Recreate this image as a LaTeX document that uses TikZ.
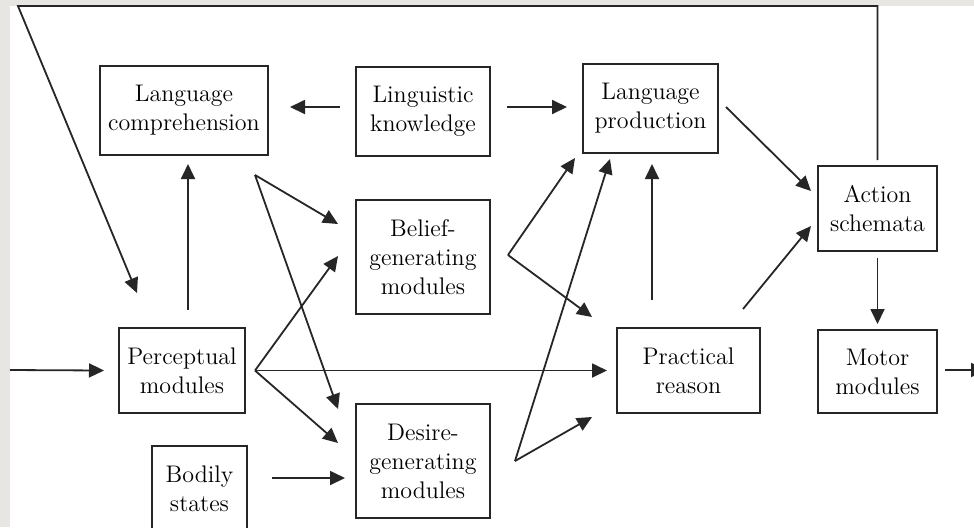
\documentclass[tikz,border=0pt]{standalone}
\usepackage{tikz}
\usetikzlibrary{calc,arrows.meta}
\newcommand{\clrline}{black!85}
\definecolor{pagegray}{HTML}{E8E6E3}
\tikzset{
    modbox/.style={draw=\clrline, line width=0.95pt, align=center, inner sep=0pt, outer sep=0pt,
        font=\fontsize{12}{14.5}\selectfont},
    arr/.style={draw=\clrline, line width=0.9pt, -{Triangle[length=7.5pt,width=7pt]}}
}

\begin{document}
\begin{tikzpicture}[x=0.5pt, y=-0.5pt]
    \useasboundingbox (0,0) rectangle (974,527);
    \clip (0,0) rectangle (974,527);
    %page
        \fill[pagegray] (0,0) rectangle (974,527);
        \fill[white] (10,6) rectangle (974,527);

    %modules
        \node[modbox, minimum width=84pt, minimum height=44.5pt] (langc) at (184,110.5) {Language\\comprehension};
        \node[modbox, minimum width=67pt, minimum height=44.5pt] (lingk) at (423,111.5) {Linguistic\\knowledge};
        \node[modbox, minimum width=67.5pt, minimum height=44.5pt] (langp) at (650.5,108.5) {Language\\production};
        \node[modbox, minimum width=59.5pt, minimum height=42.5pt] (action) at (877.5,208.5) {Action\\schemata};
        \node[modbox, minimum width=67pt, minimum height=57pt] (belief) at (423,257) {Belief-\\generating\\modules};
        \node[modbox, minimum width=63pt, minimum height=42.5pt] (percep) at (182,370.5) {Perceptual\\modules};
        \node[modbox, minimum width=47.5pt, minimum height=43pt] (bodily) at (199.5,489) {Bodily\\states};
        \node[modbox, minimum width=67pt, minimum height=57pt] (desire) at (423,461) {Desire-\\generating\\modules};
        \node[modbox, minimum width=71.5pt, minimum height=42.5pt] (pract) at (688.5,370.5) {Practical\\reason};
        \node[modbox, minimum width=59.5pt, minimum height=41.5pt] (motor) at (877.5,371.5) {Motor\\modules};

    %fan points
        \coordinate (cfan) at ($(langc.south east)+(-13,20)$);
        \coordinate (pfan) at ($(percep.east)+(10,0)$);
        \coordinate (bfan) at ($(belief.east)+(18,-2)$);
        \coordinate (dfan) at ($(desire.east)+(25,0)$);
    %arrow tips placed by hand
        \coordinate (bel1) at ($(belief.west)+(-18,-33)$);
        \coordinate (bel2) at ($(belief.west)+(-18,-1)$);
        \coordinate (des1) at ($(desire.west)+(-18,-52)$);
        \coordinate (des2) at ($(desire.west)+(-18,-18)$);
        \coordinate (pr1) at ($(pract.west)+(-10,0)$);
        \coordinate (pr2) at ($(pract.north west)+(-25,-11)$);
        \coordinate (pr3) at ($(pract.south west)+(-25,4)$);
        \coordinate (lp1) at ($(langp.south west)+(-8,5)$);
        \coordinate (lp2) at ($(langp.south west)+(27,6)$);
        \coordinate (in) at (10,370);
        \coordinate (out) at (986,370);
        \coordinate (fbl) at (18,6);

    %fans
        \foreach \t in {bel1,des1} {
            \draw[arr] (cfan) -- (\t);
        }
        \foreach \t in {bel2,des2,pr1} {
            \draw[arr] (pfan) -- (\t);
        }
        \foreach \t in {lp1,pr2} {
            \draw[arr] (bfan) -- (\t);
        }
        \foreach \t in {lp2,pr3} {
            \draw[arr] (dfan) -- (\t);
        }

    %single arrows
        \draw[arr] (in) -- ($(percep.west)+(-15,0)$);
        \draw[arr] ($(percep.north)+(6,-18)$) -- ($(langc.south)+(4,9)$);
        \draw[arr] ($(lingk.west)+(-16,-4.5)$) -- ($(langc.east)+(22,-3.5)$);
        \draw[arr] ($(lingk.east)+(17,-4.5)$) -- ($(langp.west)+(-16,-1.5)$);
        \draw[arr] ($(bodily.east)+(25,-11)$) -- ($(desire.west)+(-11,17)$);
        \draw[arr] ($(pract.north)+(-36.5,-28)$) -- ($(langp.south)+(1.5,11)$);
        \draw[arr] ($(langp.east)+(8,-1.5)$) -- ($(action.west)+(-7,-17.5)$);
        \draw[arr] ($(pract.north east)+(-17,-19)$) -- ($(action.west)+(-7,17.5)$);
        \draw[arr] ($(action.south)+(0,7)$) -- ($(motor.north)+(0,-6)$);
        \draw[arr] ($(motor.east)+(8,-1.5)$) -- (out);

    %feedback line over the top
        \draw[arr] ($(action.north)+(0,-6)$) |- (fbl) -- ($(percep.north west)+(18,-35)$);
\end{tikzpicture}
\end{document}
